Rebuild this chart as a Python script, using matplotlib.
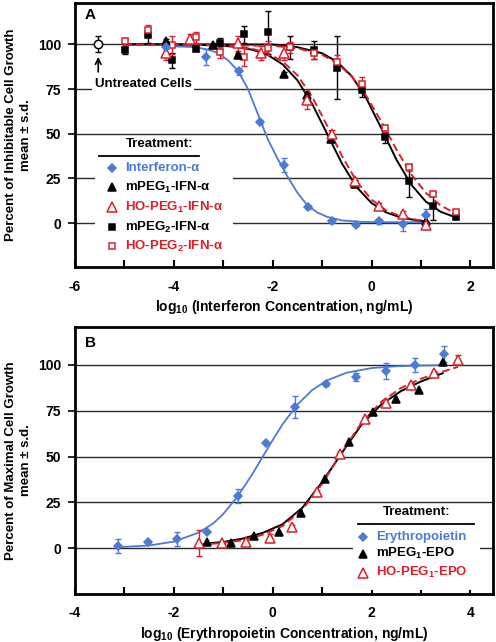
import matplotlib
matplotlib.use('Agg')
import matplotlib.pyplot as plt
from matplotlib.patches import Rectangle

plt.rcParams['font.family'] = ['Liberation Sans', 'DejaVu Sans']
plt.rcParams['font.weight'] = 'bold'
plt.rcParams['axes.labelweight'] = 'bold'
plt.rcParams['axes.unicode_minus'] = False
plt.rcParams['mathtext.fontset'] = 'custom'
plt.rcParams['mathtext.rm'] = 'Liberation Sans:bold'
plt.rcParams['mathtext.bf'] = 'Liberation Sans:bold'
plt.rcParams['mathtext.it'] = 'Liberation Sans:bold'
plt.rcParams['mathtext.default'] = 'rm'

BLUE = '#4a7bd5'
RED = '#dc1f2b'

# ---- panel A: interferon ----
untreated_x = [-5.53]
untreated_y = [100.0]
untreated_err = [4.5]

ifn_x = [-4.15, -3.34, -2.69, -2.25, -1.78, -1.29, -0.81, -0.32, 0.15, 0.63, 1.10]
ifn_y = [98.5, 92.7, 84.9, 56.4, 32.4, 8.9, 1.1, -1.0, 1.0, -0.5, 4.5]
ifn_err = [1.0, 4.5, 2.0, 1.0, 4.0, 1.0, 1.0, 0.5, 1.5, 4.0, 3.5]
ifn_fit_x = [-4.2, -3.6, -3.3, -3.1, -2.9, -2.7, -2.5, -2.3, -2.1, -1.9, -1.7, -1.5,
             -1.3, -1.1, -0.9, -0.6, -0.2, 0.3, 0.8, 1.1]
ifn_fit_y = [99.0, 98.5, 97.0, 95.0, 91.0, 85.0, 75.0, 61.0, 47.0, 36.0, 26.0, 17.0,
             10.0, 6.0, 3.5, 1.5, 0.7, 0.5, 0.5, 0.5]

m1_x = [-4.15, -3.20, -2.71, -1.78, -1.30, -0.83, -0.34, 1.10]
m1_y = [101.7, 99.5, 93.9, 83.2, 71.5, 47.0, 22.0, 1.0]
m1_err = [1.5, 1.5, 1.5, 1.5, 1.5, 1.5, 2.0, 3.0]
m1_fit_x = [-5.0, -4.2, -3.5, -3.0, -2.7, -2.4, -2.1, -1.8, -1.5, -1.2, -0.9, -0.6,
            -0.3, 0.0, 0.3, 0.6, 0.9, 1.1]
m1_fit_y = [100.0, 100.0, 99.7, 99.2, 98.4, 96.9, 94.1, 88.8, 79.9, 66.6, 50.0, 33.4,
            20.1, 11.2, 5.9, 3.1, 1.6, 1.0]

ho1_x = [-4.15, -3.67, -2.71, -2.23, -1.78, -1.30, -0.81, -0.34, 0.15, 0.63, 1.10]
ho1_y = [95.0, 102.7, 100.5, 95.0, 95.0, 68.7, 50.0, 23.5, 9.5, 5.0, -1.1]
ho1_err = [4.0, 3.0, 4.0, 4.0, 4.0, 5.0, 2.0, 2.0, 1.5, 1.5, 2.0]
ho1_fit_x = [-5.0, -4.2, -3.5, -3.0, -2.7, -2.4, -2.1, -1.8, -1.5, -1.2, -0.9, -0.6,
             -0.3, 0.0, 0.3, 0.6, 0.9, 1.1]
ho1_fit_y = [100.0, 100.0, 99.8, 99.3, 98.7, 97.4, 95.0, 90.5, 82.7, 70.6, 54.6, 37.6,
             23.2, 13.1, 7.0, 3.7, 1.9, 1.2]

m2_x = [-4.99, -4.52, -4.03, -3.55, -3.07, -2.59, -2.10, -1.64, -1.17, -0.69, -0.20,
        0.27, 0.75, 1.24, 1.70]
m2_y = [96.6, 105.0, 91.0, 97.5, 100.5, 105.5, 106.7, 98.3, 97.0, 87.0, 74.3,
        48.0, 23.5, 9.5, 3.4]
m2_err = [2.0, 4.0, 4.0, 1.0, 3.0, 5.0, 12.0, 6.5, 5.0, 17.5, 4.0, 3.0, 9.0, 8.0, 1.0]
m2_fit_x = [-5.0, -2.0, -1.5, -1.0, -0.7, -0.4, -0.1, 0.2, 0.5, 0.8, 1.1, 1.4, 1.7]
m2_fit_y = [100.0, 99.9, 98.4, 95.0, 90.3, 82.2, 69.5, 52.9, 35.7, 21.6, 12.0, 6.3, 3.2]

ho2_x = m2_x
ho2_y = [101.7, 107.8, 99.4, 104.0, 95.5, 92.7, 97.8, 98.3, 95.0, 90.0, 77.6,
         53.0, 31.3, 16.2, 6.1]
ho2_err = [2.0, 3.0, 5.0, 3.0, 3.0, 5.0, 4.0, 3.0, 3.0, 4.0, 4.0, 2.0, 2.0, 1.0, 1.0]
ho2_fit_x = [-5.0, -2.0, -1.5, -1.0, -0.7, -0.4, -0.1, 0.2, 0.5, 0.8, 1.1, 1.4, 1.7]
ho2_fit_y = [100.0, 99.2, 97.8, 94.1, 89.5, 82.0, 70.9, 56.7, 41.3, 27.4, 16.9, 9.8, 5.5]

# ---- panel B: erythropoietin ----
epo_x = [-3.13, -2.52, -1.93, -1.32, -0.71, -0.13, 0.46, 1.07, 1.68, 2.29, 2.88, 3.46]
epo_y = [1.1, 3.3, 4.9, 8.7, 28.4, 57.4, 77.0, 89.6, 93.4, 96.7, 100.0, 106.0]
epo_err = [4.0, 0.5, 4.0, 0.5, 4.0, 0.5, 6.0, 1.0, 2.0, 4.5, 4.0, 4.5]
epo_fit_x = [-3.1, -2.5, -2.0, -1.5, -1.2, -1.0, -0.7, -0.4, -0.2, 0.0, 0.2, 0.5,
             0.8, 1.1, 1.5, 2.0, 2.5, 3.0, 3.4]
epo_fit_y = [0.5, 1.4, 3.5, 8.4, 13.5, 18.6, 28.5, 40.9, 50.0, 59.0, 67.6, 78.4,
             86.3, 91.6, 95.8, 98.3, 99.3, 99.7, 99.9]

mepo_x = [-1.32, -0.84, -0.37, 0.12, 0.58, 1.05, 1.54, 2.02, 2.49, 2.96, 3.44]
mepo_y = [3.3, 2.7, 6.6, 8.7, 19.0, 37.7, 58.0, 74.3, 81.4, 86.3, 101.6]
mepo_fit_x = [-1.3, -1.0, -0.6, -0.2, 0.2, 0.6, 1.0, 1.4, 1.8, 2.2, 2.6, 3.0, 3.44]
mepo_fit_y = [2.6, 3.3, 5.2, 8.3, 13.0, 22.0, 36.0, 52.0, 67.5, 78.5, 85.8, 91.0, 95.5]

hoepo_x = [-1.50, -1.02, -0.55, -0.06, 0.40, 0.89, 1.36, 1.86, 2.29, 2.80, 3.26, 3.75]
hoepo_y = [2.7, 2.7, 3.3, 5.5, 11.5, 30.6, 51.4, 70.5, 79.2, 89.0, 95.6, 102.7]
hoepo_err = [7.0, 1.0, 1.0, 2.0, 1.0, 1.0, 1.0, 1.0, 2.0, 1.0, 1.0, 2.5]
hoepo_fit_x = [-1.5, -1.0, -0.6, -0.2, 0.2, 0.6, 1.0, 1.4, 1.8, 2.2, 2.6, 3.0, 3.4, 3.75]
hoepo_fit_y = [1.8, 2.8, 4.3, 7.3, 12.0, 21.0, 35.0, 52.5, 68.5, 80.0, 87.5, 92.5,
               96.0, 99.0]

yticks = [0, 25, 50, 75, 100]
DASH = (0, (4, 2))


def style_axes(ax, xlim, ylim, xmajor, xminor):
    ax.set_xlim(*xlim)
    ax.set_ylim(*ylim)
    ax.set_xticks(xmajor, labels=[str(v) for v in xmajor], fontweight='bold',
                  fontsize=10)
    ax.set_xticks(xminor, minor=True)
    ax.set_yticks(yticks, labels=[str(v) for v in yticks], fontweight='bold',
                  fontsize=10)
    ax.set_axisbelow(True)
    ax.yaxis.grid(True, color='#2a2a2a', linewidth=1.0)
    for sp in ax.spines.values():
        sp.set_linewidth(2.0)
    ax.tick_params(axis='x', which='both', direction='in', length=5, width=1.5, pad=9)
    ax.tick_params(axis='y', direction='out', length=5, width=1.2, pad=5)


def series(ax, x, y, err, color, marker, ms, filled=True):
    if err is not None:
        ax.errorbar(x, y, yerr=err, fmt='none', ecolor=color, elinewidth=1.0,
                    capsize=2.5, capthick=1.0, zorder=3)
    ax.plot(x, y, linestyle='none', marker=marker, markersize=ms, color=color,
            markerfacecolor=color if filled else 'white', markeredgewidth=1.1, zorder=4)


def legend_box(ax, box, title_xy, rule, rows, mx, tx):
    ax.add_patch(Rectangle(box[:2], box[2], box[3], transform=ax.transAxes,
                           facecolor='white', edgecolor='none', zorder=1))
    ax.text(title_xy[0], title_xy[1], 'Treatment:', transform=ax.transAxes,
            ha='center', va='center', fontsize=9.5)
    ax.plot(rule[0], rule[1], transform=ax.transAxes, color='black', lw=1.3,
            clip_on=False, zorder=2)
    for y, (label, color, marker, ms, filled) in rows:
        ax.plot([mx], [y], transform=ax.transAxes, linestyle='none', marker=marker,
                markersize=ms, color=color,
                markerfacecolor=color if filled else 'white', markeredgewidth=1.1)
        ax.text(tx, y, label, transform=ax.transAxes, color=color, ha='left',
                va='center', fontsize=9.5)


fig = plt.figure(figsize=(4.96, 6.42), dpi=100)

# ---------------- Panel A ----------------
axA = fig.add_axes([0.1512, 0.584, 0.843, 0.411])
style_axes(axA, (-6, 2.46), (-24.6, 123), [-6, -4, -2, 0, 2], [-5, -3, -1, 1])

axA.plot(ifn_fit_x, ifn_fit_y, color=BLUE, lw=1.3, zorder=2)
axA.plot(m1_fit_x, m1_fit_y, color='black', lw=1.4, zorder=2)
axA.plot(ho1_fit_x, ho1_fit_y, color=RED, lw=1.4, linestyle=DASH, zorder=2)
axA.plot(m2_fit_x, m2_fit_y, color='black', lw=1.4, zorder=2)
axA.plot(ho2_fit_x, ho2_fit_y, color=RED, lw=1.4, linestyle=DASH, zorder=2)

series(axA, m2_x, m2_y, m2_err, 'black', 's', 5)
series(axA, ho2_x, ho2_y, ho2_err, RED, 's', 5, filled=False)
series(axA, m1_x, m1_y, m1_err, 'black', '^', 6)
series(axA, ho1_x, ho1_y, ho1_err, RED, '^', 6.5, filled=False)
series(axA, ifn_x, ifn_y, ifn_err, BLUE, 'D', 4)
series(axA, untreated_x, untreated_y, untreated_err, 'black', 'o', 6, filled=False)

axA.annotate('', xy=(-5.53, 94.5), xytext=(-5.53, 83),
             arrowprops=dict(arrowstyle='->', color='black', lw=1.2))
axA.text(-4.62, 77.7, 'Untreated Cells', ha='center', va='center', fontsize=9.5,
         bbox=dict(facecolor='white', edgecolor='none', pad=2))
axA.text(0.024, 0.955, 'A', transform=axA.transAxes, ha='left', va='center',
         fontsize=11)

legend_box(axA, (0.048, 0.057, 0.33, 0.435), (0.203, 0.466),
           ([0.057, 0.297], [0.42, 0.42]),
           [(0.375, ('Interferon-α', BLUE, 'D', 4, True)),
            (0.303, ('mPEG$_1$-IFN-α', 'black', '^', 6, True)),
            (0.227, ('HO-PEG$_1$-IFN-α', RED, '^', 6.5, False)),
            (0.152, ('mPEG$_2$-IFN-α', 'black', 's', 5, True)),
            (0.080, ('HO-PEG$_2$-IFN-α', RED, 's', 5, False))],
           0.0885, 0.120)

axA.set_xlabel('log$_{10}$ (Interferon Concentration, ng/mL)', fontsize=10,
               fontweight='bold', labelpad=3)
axA.text(-0.135, 0.5, 'Percent of Inhibitable Cell Growth\nmean ± s.d.',
         transform=axA.transAxes, rotation=90, ha='center', va='center',
         fontsize=9.5, linespacing=1.3)

# ---------------- Panel B ----------------
axB = fig.add_axes([0.1512, 0.0748, 0.843, 0.416])
style_axes(axB, (-4, 4.46), (-25.1, 120.8), [-4, -2, 0, 2, 4], [-3, -1, 1, 3])

axB.plot(epo_fit_x, epo_fit_y, color=BLUE, lw=1.3, zorder=2)
axB.plot(mepo_fit_x, mepo_fit_y, color='black', lw=1.4, zorder=2)
axB.plot(hoepo_fit_x, hoepo_fit_y, color=RED, lw=1.4, linestyle=DASH, zorder=2)

series(axB, mepo_x, mepo_y, None, 'black', '^', 5.5)
series(axB, hoepo_x, hoepo_y, hoepo_err, RED, '^', 6.5, filled=False)
series(axB, epo_x, epo_y, epo_err, BLUE, 'D', 4)

axB.text(0.024, 0.940, 'B', transform=axB.transAxes, ha='left', va='center',
         fontsize=11)

legend_box(axB, (0.665, 0.015, 0.304, 0.318), (0.818, 0.307),
           ([0.677, 0.955], [0.262, 0.262]),
           [(0.2135, ('Erythropoietin', BLUE, 'D', 4, True)),
            (0.150, ('mPEG$_1$-EPO', 'black', '^', 6, True)),
            (0.079, ('HO-PEG$_1$-EPO', RED, '^', 6.5, False))],
           0.689, 0.720)

axB.set_xlabel('log$_{10}$ (Erythropoietin Concentration, ng/mL)', fontsize=10,
               fontweight='bold', labelpad=3)
axB.text(-0.135, 0.5, 'Percent of Maximal Cell Growth\nmean ± s.d.',
         transform=axB.transAxes, rotation=90, ha='center', va='center',
         fontsize=9.5, linespacing=1.3)

fig.savefig('out.png', dpi=100)
